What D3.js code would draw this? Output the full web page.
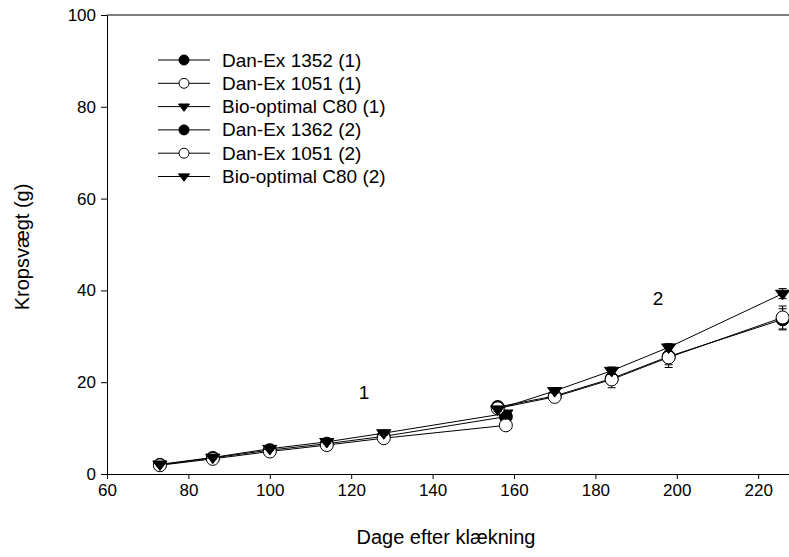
<!DOCTYPE html>
<html>
<head>
<meta charset="utf-8">
<script src="https://cdn.jsdelivr.net/npm/d3@7"></script>
<style>
  body { margin: 0; background: #fff; }
  svg text { font-family: "Liberation Sans", Arial, sans-serif; fill: #000; }
</style>
</head>
<body>
<svg id="chart" width="789" height="557"></svg>
<script>

// period 1
var days1 = [73, 86, 100, 114, 128, 158];
var danEx1352_1 = [2.0, 3.5, 5.2, 6.6, 8.2, 12.5];
var danEx1051_1 = [1.9, 3.3, 4.9, 6.3, 7.8, 10.6];
var bio_1 = [2.1, 3.6, 5.5, 7.0, 8.9, 13.2];
var err1352_1 = [0.3, 0.3, 0.4, 0.4, 0.5, 0.6];
var err1051_1 = [0.3, 0.3, 0.4, 0.4, 0.5, 0.6];
var errBio_1 = [0.3, 0.3, 0.4, 0.4, 0.5, 0.6];

// period 2
var days2 = [156, 170, 184, 198, 226];
var danEx1362_2 = [14.6, 17.0, 20.8, 25.6, 33.7];
var danEx1051_2 = [14.3, 16.8, 20.6, 25.4, 34.1];
var bio_2 = [14.1, 18.1, 22.5, 27.6, 39.3];
var err1362_2 = [0.5, 0.5, 1.2, 1.8, 2.3];
var err1051_2 = [0.5, 0.5, 1.8, 2.2, 2.5];
var errBio_2 = [0.5, 0.5, 0.8, 0.8, 1.1];

var xTicks = [60, 80, 100, 120, 140, 160, 180, 200, 220];
var yTicks = [0, 20, 40, 60, 80, 100];

var series = [
	{ name: "Dan-Ex 1352 (1)", days: days1, values: danEx1352_1, err: err1352_1, symbol: "filled" },
	{ name: "Dan-Ex 1051 (1)", days: days1, values: danEx1051_1, err: err1051_1, symbol: "open" },
	{ name: "Bio-optimal C80 (1)", days: days1, values: bio_1, err: errBio_1, symbol: "tri" },
	{ name: "Dan-Ex 1362 (2)", days: days2, values: danEx1362_2, err: err1362_2, symbol: "filled" },
	{ name: "Dan-Ex 1051 (2)", days: days2, values: danEx1051_2, err: err1051_2, symbol: "open" },
	{ name: "Bio-optimal C80 (2)", days: days2, values: bio_2, err: errBio_2, symbol: "tri" }
];

var svg = d3.select("#chart");
var width = 789;

var x = d3.scaleLinear()
		.domain([60, 230])
		.range([107, 107 + 170 * 4.07]);

var y = d3.scaleLinear()
		.domain([0, 100])
		.range([474, 15]);

// axes
svg.append("g")
		.attr("transform", "translate(0," + y(0) + ")")
		.call(d3.axisBottom(x).tickValues(xTicks).tickSize(5).tickSizeOuter(0).tickPadding(5));

svg.append("g")
		.attr("transform", "translate(" + x(60) + ",0)")
		.call(d3.axisLeft(y).tickValues(yTicks).tickSize(6).tickSizeOuter(0).tickPadding(5));

svg.selectAll(".tick text").style("font-size", "17px");
svg.selectAll(".domain, .tick line").attr("stroke", "#000");

// top frame line
svg.append("line")
		.attr("x1", x(60)).attr("x2", width)
		.attr("y1", y(100)).attr("y2", y(100))
		.attr("stroke", "#000");

// axis titles
svg.append("text")
		.attr("x", 446).attr("y", 544)
		.attr("text-anchor", "middle")
		.style("font-size", "20px")
		.text("Dage efter klækning");

svg.append("text")
		.attr("transform", "translate(29,247) rotate(-90)")
		.attr("text-anchor", "middle")
		.style("font-size", "20px")
		.text("Kropsvægt (g)");

function drawSymbol(g, kind, cx, cy, size) {
	if (kind == "tri") {
		var w = size * 1.1, h = size * 0.95;
		g.append("path")
				.attr("d", "M" + (cx - w) + "," + (cy - h * 0.55) + "L" + (cx + w) + "," +
						(cy - h * 0.55) + "L" + cx + "," + (cy + h * 1.0) + "Z")
				.attr("fill", "#000")
				.attr("stroke", "#000")
				.attr("stroke-width", 1);
	} else {
		g.append("circle")
				.attr("cx", cx).attr("cy", cy).attr("r", size)
				.attr("fill", kind == "filled" ? "#000" : "#fff")
				.attr("stroke", "#000")
				.attr("stroke-width", 1);
	}
}

var line = d3.line()
		.x(function(d) { return x(d[0]); })
		.y(function(d) { return y(d[1]); });

series.forEach(function(s) {
	var g = svg.append("g");
	var pts = s.days.map(function(d, i) { return [d, s.values[i], s.err[i]]; });

	// error bars
	pts.forEach(function(p) {
		var cx = x(p[0]);
		g.append("line")
				.attr("x1", cx).attr("x2", cx)
				.attr("y1", y(p[1] - p[2])).attr("y2", y(p[1] + p[2]))
				.attr("stroke", "#000");
		[p[1] - p[2], p[1] + p[2]].forEach(function(v) {
			g.append("line")
					.attr("x1", cx - 4).attr("x2", cx + 4)
					.attr("y1", y(v)).attr("y2", y(v))
					.attr("stroke", "#000");
		});
	});

	g.append("path")
			.datum(pts)
			.attr("d", line)
			.attr("fill", "none")
			.attr("stroke", "#000")
			.attr("stroke-width", 1);

	pts.forEach(function(p) {
		drawSymbol(g, s.symbol, x(p[0]), y(p[1]), 6.5);
	});
});

// period labels
svg.append("text")
		.attr("x", 364).attr("y", 399)
		.attr("text-anchor", "middle")
		.style("font-size", "19px")
		.text("1");

svg.append("text")
		.attr("x", 658).attr("y", 305)
		.attr("text-anchor", "middle")
		.style("font-size", "19px")
		.text("2");

// legend
var legend = svg.append("g");
series.forEach(function(s, i) {
	var ly = 60 + i * 23.3;
	legend.append("line")
			.attr("x1", 158).attr("x2", 210)
			.attr("y1", ly).attr("y2", ly)
			.attr("stroke", "#000");
	drawSymbol(legend, s.symbol, 184, ly, 5);
	legend.append("text")
			.attr("x", 222).attr("y", ly + 6.5)
			.style("font-size", "19px")
			.text(s.name);
});

</script>
</body>
</html>
